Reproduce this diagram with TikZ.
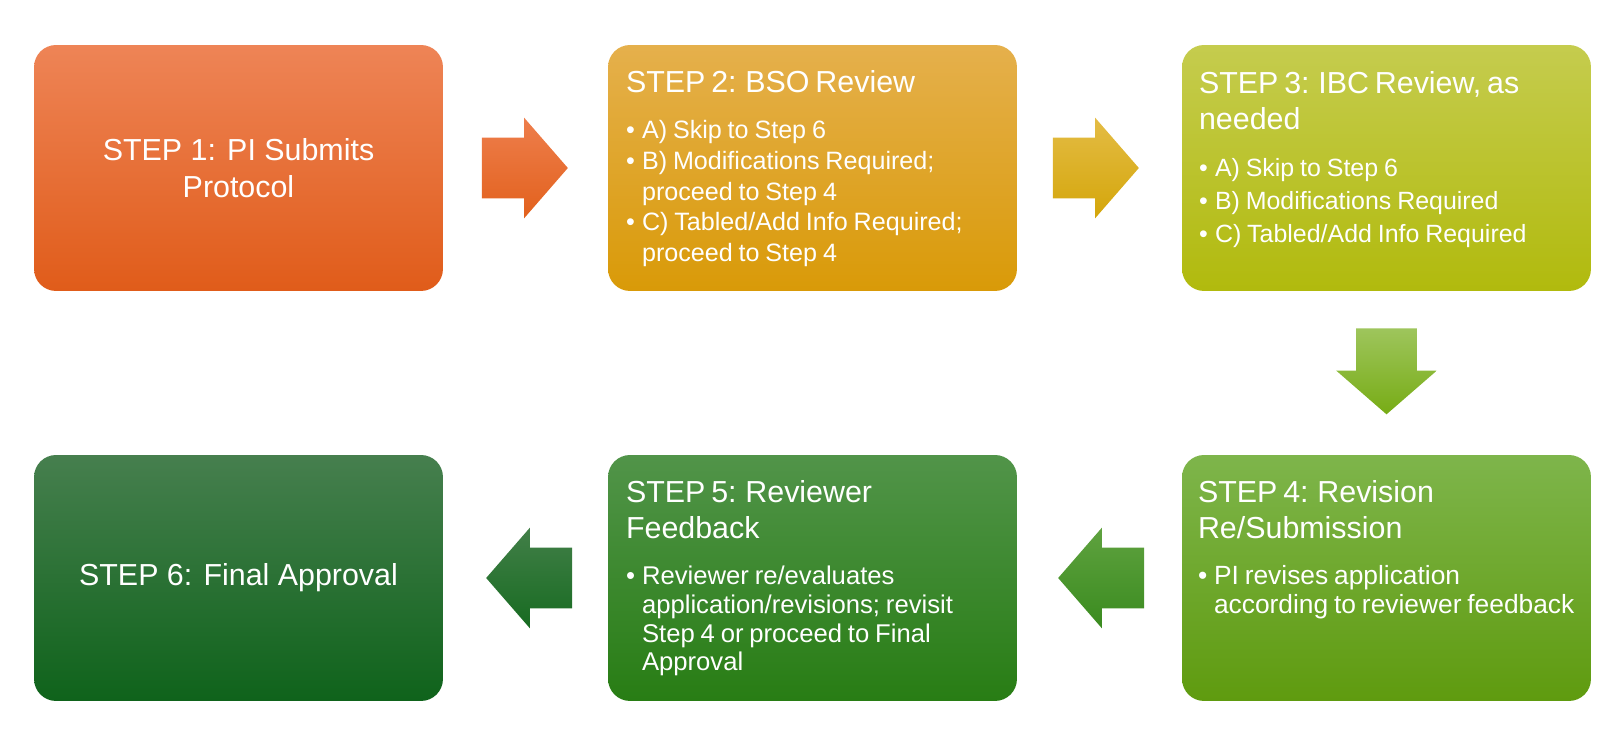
\documentclass[tikz,border=0pt]{standalone}
\usepackage{fontspec}
\setmainfont{Liberation Sans}
\usetikzlibrary{arrows.meta,calc,positioning,shapes.arrows}
\definecolor{top1}{HTML}{EE8456}\definecolor{bot1}{HTML}{E05C1A}
\definecolor{top2}{HTML}{E5B04C}\definecolor{bot2}{HTML}{D99A08}
\definecolor{top3}{HTML}{C5CC4E}\definecolor{bot3}{HTML}{B1BA0D}
\definecolor{top4}{HTML}{7EB54B}\definecolor{bot4}{HTML}{5F9B0F}
\definecolor{top5}{HTML}{519449}\definecolor{bot5}{HTML}{287D14}
\definecolor{top6}{HTML}{467F4E}\definecolor{bot6}{HTML}{0F631B}
\definecolor{arrtop12}{HTML}{EE7E4C}\definecolor{arrbot12}{HTML}{E2611D}
\definecolor{arrtop23}{HTML}{E4BC45}\definecolor{arrbot23}{HTML}{D4A60A}
\definecolor{arrtop34}{HTML}{9EC55C}\definecolor{arrbot34}{HTML}{77AC15}
\definecolor{arrtop45}{HTML}{5FA23F}\definecolor{arrbot45}{HTML}{3A8B1F}
\definecolor{arrtop56}{HTML}{427F48}\definecolor{arrbot56}{HTML}{176B21}
\newcommand\stepfont{\fontsize{17.3}{20.8}\selectfont}
\newcommand\itemfont[2]{\fontsize{#1}{#2}\selectfont}
\newcommand\bul{\par\hangindent=.32cm\hangafter=1\noindent\makebox[.32cm][l]{\textbullet}}
\tikzset{
  stepbox/.style={rounded corners=.44cm,minimum width=8.18cm,minimum height=4.92cm,inner sep=0pt},
  steptext/.style={anchor=north west,text width=7.9cm,align=left,inner sep=0pt,text=white},
  bigtext/.style={align=center,text=white,inner sep=0pt,font=\stepfont},
  blockarrow/.style={single arrow,anchor=tail,minimum height=1.72cm,inner xsep=0pt,inner ysep=.6cm,
    single arrow head extend=.4cm,single arrow tip angle=98}}
\begin{document}
\begin{tikzpicture}[x=.02cm,y=.02cm]
\useasboundingbox(0,0)rectangle(1617,740);
\foreach \n/\x/\y in {1/238.5/572,2/812.5/572,3/1386.5/572,4/1386.5/162,5/812.5/162,6/238.5/162}{\node[stepbox,top color=top\n,bottom color=bot\n](s\n)at(\x,\y){};}
% arrows between the steps
\node[blockarrow,top color=arrtop12,bottom color=arrbot12](a12)at($(s1.east)!.5!(s2.west)+(-44,0)$){};
\node[blockarrow,top color=arrtop23,bottom color=arrbot23](a23)at($(s2.east)!.5!(s3.west)+(-47,0)$){};
\node[blockarrow,shape border rotate=270,inner xsep=.6cm,inner ysep=0pt,top color=arrtop34,bottom color=arrbot34](a34)at($(s3.south)!.5!(s4.north)+(0,45)$){};
\node[blockarrow,shape border rotate=180,top color=arrtop45,bottom color=arrbot45](a45)at($(s4.west)!.5!(s5.east)+(45,0)$){};
\node[blockarrow,shape border rotate=180,top color=arrtop56,bottom color=arrbot56](a56)at($(s5.west)!.5!(s6.east)+(47,0)$){};
% texts
\node[bigtext](t1)at(s1){STEP 1: PI Submits\\Protocol};
\node[bigtext](t6)at(s6){STEP 6: Final Approval};
\node[steptext](t2)at($(s2.north west)+(18,-25)$){\stepfont STEP 2: BSO Review\par\vspace{9pt}\itemfont{14.3}{17.5}
  \bul A) Skip to Step 6\bul B) Modifications Required;\newline proceed to Step 4\bul C) Tabled/Add Info Required;\newline proceed to Step 4\par};
\node[steptext](t3)at($(s3.north west)+(17,-26)$){\stepfont STEP 3: IBC Review, as\newline needed\par\vspace{8pt}\itemfont{14.2}{18.7}
  \bul A) Skip to Step 6\bul B) Modifications Required\bul C) Tabled/Add Info Required\par};
\node[steptext](t4)at($(s4.north west)+(16,-25)$){\stepfont STEP 4: Revision\newline Re/Submission\par\vspace{10pt}\itemfont{15}{16.4}
  \bul PI revises application\newline according to reviewer feedback\par};
\node[steptext](t5)at($(s5.north west)+(18,-25)$){\stepfont STEP 5: Reviewer\newline Feedback\par\vspace{10pt}\itemfont{14.6}{16.3}
  \bul Reviewer re/evaluates\newline application/revisions; revisit\newline Step 4 or proceed to Final\newline Approval\par};
\end{tikzpicture}
\end{document}
